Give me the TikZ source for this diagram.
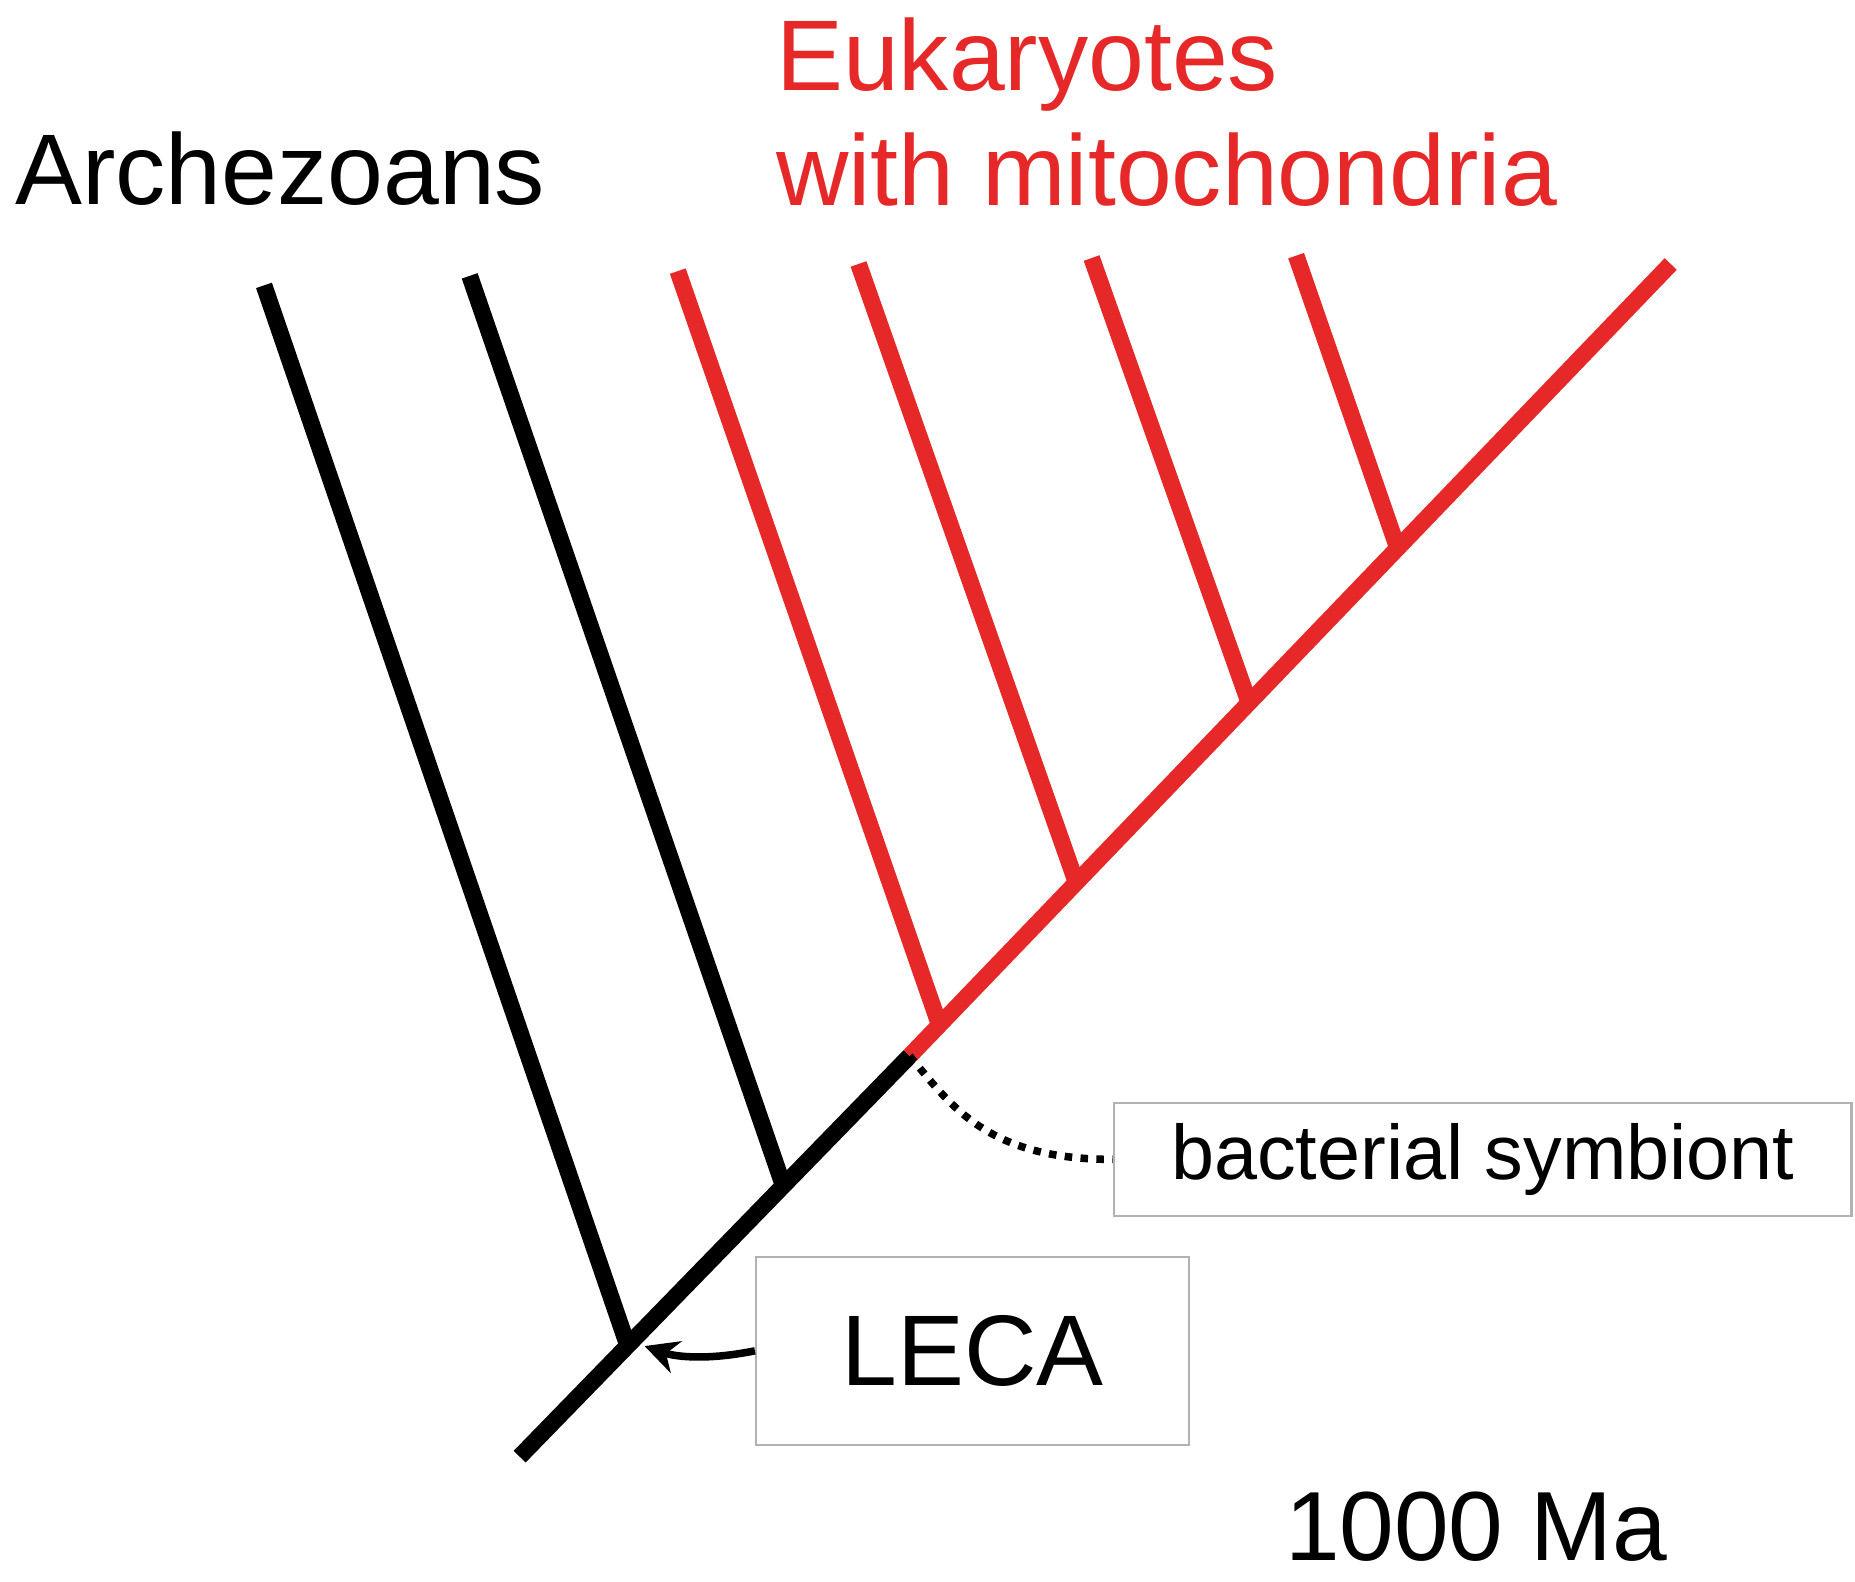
\documentclass[tikz,border=0pt]{standalone}
\usepackage{fontspec}
\setmainfont{Liberation Sans}
\usetikzlibrary{arrows.meta}
\definecolor{tred}{RGB}{230,40,40}
\begin{document}
\begin{tikzpicture}[x=0.01cm,y=-0.01cm,
  br/.style={line width=4pt},
  lbl/.style={inner sep=0,anchor=base west},
  box/.style={draw=black!30,line width=0.6pt,inner sep=0}]
\useasboundingbox (0,0) rectangle (1560,1330);
% nodes
\coordinate (root) at (437,1225);
\coordinate (leca) at (528,1132);
\coordinate (n2) at (658,995);
\coordinate (sym) at (765,888);
\coordinate (r1) at (790,862);
\coordinate (r2) at (905,742);
\coordinate (r3) at (1050,590);
\coordinate (r4) at (1175,460);
\coordinate (top) at (1405,222);
\coordinate (t1) at (222,240);
\coordinate (t2) at (395,232);
\coordinate (t3) at (570,228);
\coordinate (t4) at (722,222);
\coordinate (t5) at (918,217);
\coordinate (t6) at (1090,215);
\draw[br] (root) -- (sym);
\draw[br] (leca) -- (t1);
\draw[br] (n2) -- (t2);
\draw[br,tred] (sym) -- (top);
\draw[br,tred] (r1) -- (t3);
\draw[br,tred] (r2) -- (t4);
\draw[br,tred] (r3) -- (t5);
\draw[br,tred] (r4) -- (t6);
% labels
\node[lbl,font=\fontsize{24}{28}\selectfont] (arch) at (12,172) {Archezoans};
\node[lbl,font=\fontsize{24}{28}\selectfont,text=tred] (euk1) at (652,76) {Eukaryotes};
\node[lbl,font=\fontsize{24}{28}\selectfont,text=tred] (euk2) at (652,173) {with mitochondria};
\node[lbl,font=\fontsize{23.5}{28}\selectfont] (ma) at (1080,1312) {1000 Ma};
\node[box,minimum width=6.2cm,minimum height=0.95cm,align=center,font=\fontsize{18.5}{22}\selectfont] (bs) at (1247,975) {bacterial symbiont};
\node[box,minimum width=3.64cm,minimum height=1.58cm,align=center,font=\fontsize{24}{28}\selectfont] (lb) at (818,1136) {LECA};
\draw[line width=1.8pt,dotted] (sym) .. controls (800,930) and (830,975) .. (bs.west);
\draw[line width=1.8pt,-{Stealth[length=8pt,width=8pt]}] (lb.west) .. controls (590,1145) and (565,1140) .. ([xshift=4pt]leca);
\end{tikzpicture}
\end{document}
